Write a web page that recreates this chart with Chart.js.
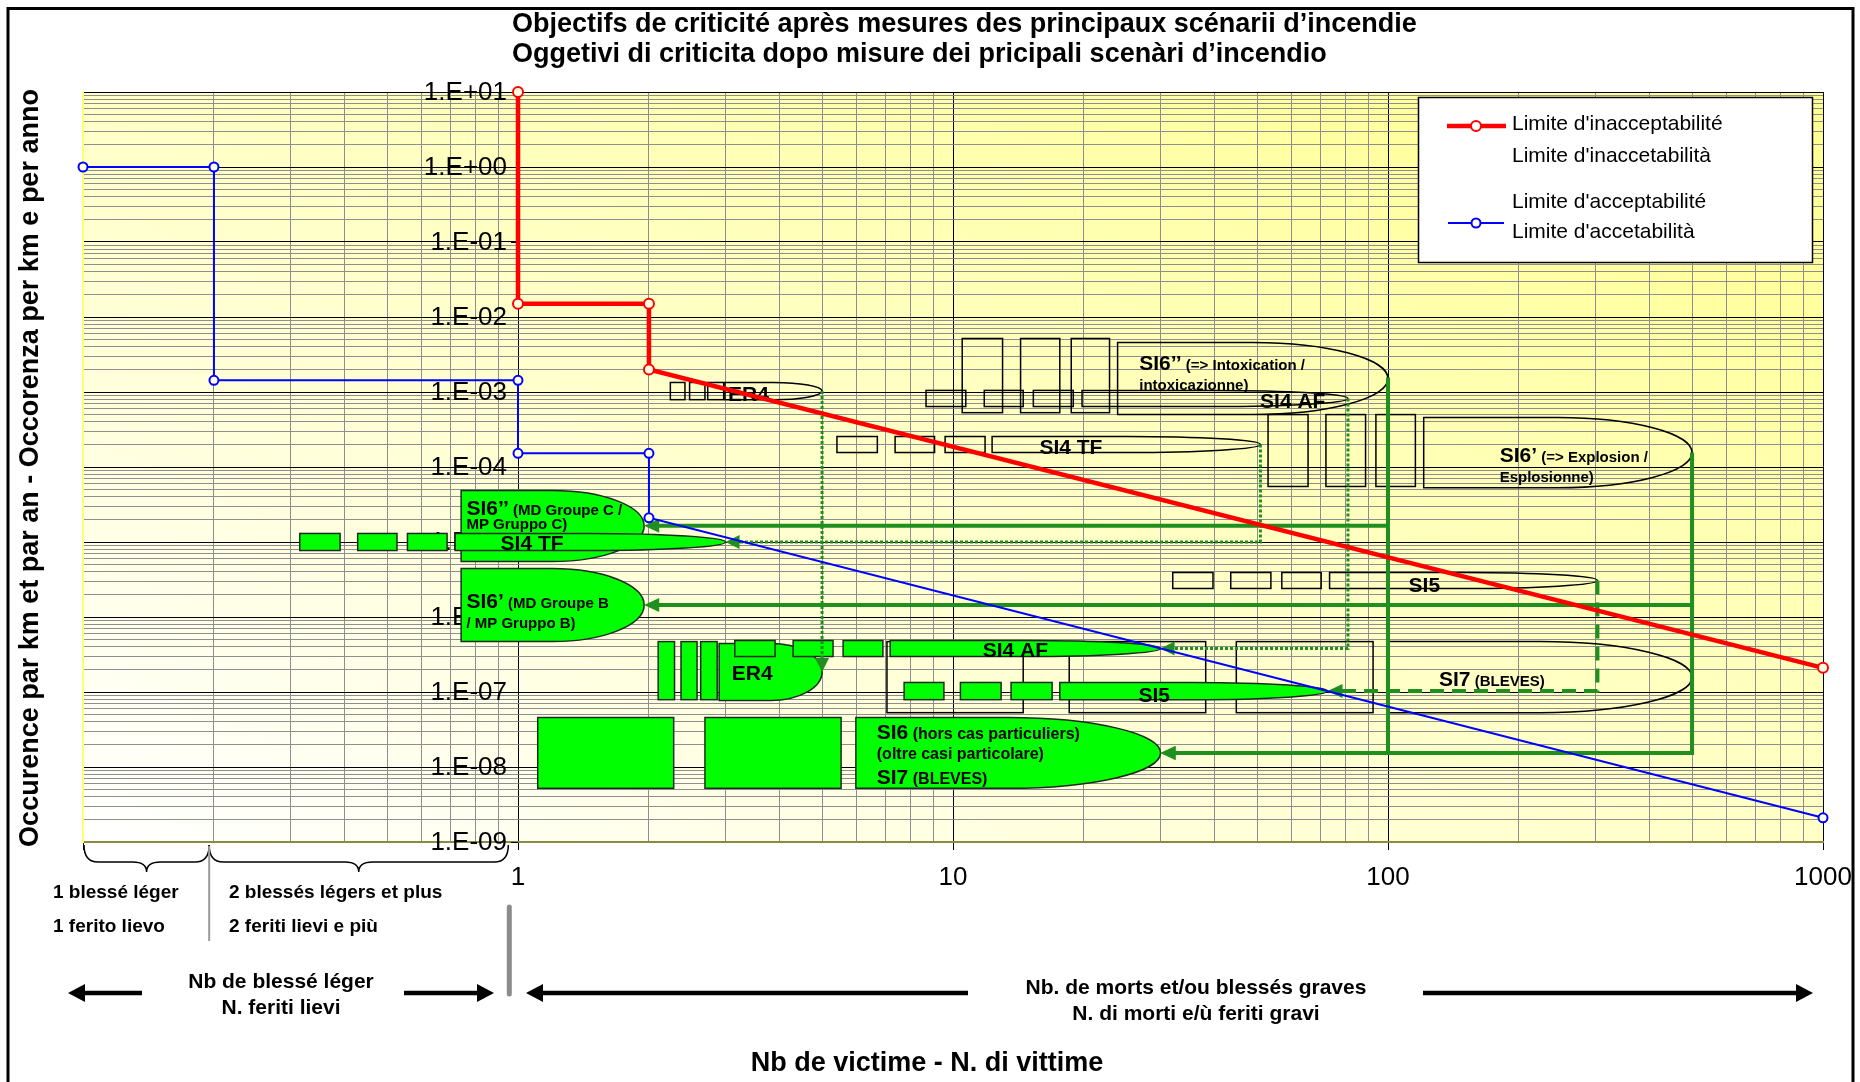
<!DOCTYPE html>
<html>
<head>
<meta charset="utf-8">
<script src="https://cdn.jsdelivr.net/npm/chart.js@4.4.1/dist/chart.umd.min.js"></script>
<style>
  html, body { margin: 0; padding: 0; background: #ffffff; }
  canvas { display: block; }
</style>
</head>
<body>
<canvas id="chart" width="1860" height="1082"></canvas>
<script>
const FONT = "'Liberation Sans', Arial, sans-serif";

// ---- Limit curves (number of victims -> occurrence per km and per year) ----
const unacceptX = [1, 1, 2, 2, 1000];
const unacceptY = [10, 0.015, 0.015, 0.002, 2.1e-7];
const acceptX = [0.1, 0.2, 0.2, 1, 1, 2, 2, 1000];
const acceptY = [1, 1, 1.43e-3, 1.43e-3, 1.52e-4, 1.52e-4, 2.1e-5, 2.1e-9];

// ---- Axis ticks ----
const yTickValues = [10, 1, 0.1, 0.01, 1e-3, 1e-4, 1e-5, 1e-6, 1e-7, 1e-8, 1e-9];
const yTickLabels = ['1.E+01', '1.E+00', '1.E-01', '1.E-02', '1.E-03', '1.E-04', '1.E-05', '1.E-06', '1.E-07', '1.E-08', '1.E-09'];
const xTickValues = [1, 10, 100, 1000];
const xTickLabels = ['1', '10', '100', '1000'];

// ---- Scenario zones before measures (outlined): [xMin, xMax, yMin, yMax] ----
const openRects = [
  [2.24, 2.42, 7.9e-4, 1.34e-3], [2.48, 2.69, 7.9e-4, 1.34e-3], [2.73, 2.97, 7.9e-4, 1.34e-3],      // ER4
  [5.41, 6.70, 1.56e-4, 2.55e-4], [7.36, 9.07, 1.56e-4, 2.55e-4], [9.59, 11.85, 1.56e-4, 2.55e-4], // SI4 TF
  [10.5, 13.0, 5.3e-4, 5.17e-3], [14.3, 17.6, 5.3e-4, 5.17e-3], [18.7, 22.9, 5.3e-4, 5.17e-3],     // SI6'' intoxication
  [8.67, 10.7, 6.4e-4, 1.05e-3], [11.8, 14.5, 6.4e-4, 1.05e-3], [15.3, 18.9, 6.4e-4, 1.05e-3],     // SI4 AF
  [53, 65.5, 5.5e-5, 5.0e-4], [72, 88.8, 5.5e-5, 5.0e-4], [93.8, 115.6, 5.5e-5, 5.0e-4],           // SI6' explosion
  [32, 39.6, 2.4e-6, 3.92e-6], [43.5, 53.8, 2.4e-6, 3.92e-6], [57, 70.2, 2.4e-6, 3.92e-6],         // SI5
  [7.05, 14.5, 5.3e-8, 4.7e-7], [18.5, 38.1, 5.3e-8, 4.7e-7], [44.8, 92.4, 5.3e-8, 4.7e-7]          // SI7
];
const openTips = [
  [2.99, 5.0, 7.9e-4, 1.34e-3],     // ER4
  [12.3, 50.9, 1.56e-4, 2.55e-4],   // SI4 TF
  [23.9, 100, 5.0e-4, 4.57e-3],     // SI6'' intoxication
  [19.8, 80.9, 6.4e-4, 1.05e-3],    // SI4 AF
  [120.8, 500, 5.3e-5, 4.57e-4],    // SI6' explosion
  [73.4, 303, 2.4e-6, 3.92e-6],     // SI5
  [100, 500, 5.3e-8, 4.7e-7]        // SI7
];

// ---- Scenario zones after measures (filled) ----
const greenTips = [
  [0.74, 1.95, 5.5e-6, 4.86e-5],    // SI6'' MD groupe C
  [0.74, 1.95, 4.7e-7, 4.43e-6],    // SI6' MD groupe B
  [0.717, 3.0, 7.7e-6, 1.3e-5],     // SI4 TF
  [2.90, 5.0, 7.7e-8, 4.43e-7],     // ER4
  [7.17, 30, 2.97e-7, 4.86e-7],     // SI4 AF
  [17.6, 72.6, 7.9e-8, 1.34e-7],    // SI5
  [5.98, 30, 5.2e-9, 4.57e-8]       // SI6 / SI7
];
const greenRects = [
  [0.315, 0.39, 7.7e-6, 1.3e-5], [0.428, 0.527, 7.7e-6, 1.3e-5], [0.557, 0.687, 7.7e-6, 1.3e-5],
  [2.10, 2.29, 7.9e-8, 4.7e-7], [2.37, 2.58, 7.9e-8, 4.7e-7], [2.63, 2.87, 7.9e-8, 4.7e-7],
  [3.15, 3.90, 2.97e-7, 4.86e-7], [4.29, 5.30, 2.97e-7, 4.86e-7], [5.59, 6.90, 2.97e-7, 4.86e-7],
  [7.72, 9.53, 7.9e-8, 1.34e-7], [10.4, 12.9, 7.9e-8, 1.34e-7], [13.6, 16.9, 7.9e-8, 1.34e-7],
  [1.11, 2.28, 5.2e-9, 4.57e-8], [2.69, 5.53, 5.2e-9, 4.57e-8]
];

// ---- Links from each initial zone to its reduced zone (arrow at the last point) ----
const solidLinks = [
  [[100, 1.56e-3], [100, 1.65e-5], [1.95, 1.65e-5]],
  [[100, 1.65e-5], [100, 1.54e-8], [30, 1.54e-8]],
  [[500, 1.56e-4], [500, 1.44e-6], [1.95, 1.44e-6]],
  [[500, 1.44e-6], [500, 1.54e-8], [30, 1.54e-8]]
];
const dottedLinks = [
  [[5, 1.03e-3], [5, 1.85e-7]],
  [[50.9, 2.0e-4], [50.9, 1.0e-5], [3.0, 1.0e-5]],
  [[80.9, 8.2e-4], [80.9, 3.8e-7], [30, 3.8e-7]]
];
const dashedLinks = [
  [[303, 3.07e-6], [303, 1.03e-7], [72.6, 1.03e-7]]
];

// ---- Zone captions: anchor (x, y) with a bold heading and a smaller tail ----
const zoneLabels = [
  { x: 26.8, y: 2.47e-3, head: 'SI6’’', tail: ' (=> Intoxication /' },
  { x: 26.8, y: 1.26e-3, head: '', tail: 'intoxicazionne)' },
  { x: 50.8, y: 7.7e-4, head: 'SI4 AF', tail: '' },
  { x: 15.8, y: 1.89e-4, head: 'SI4 TF', tail: '' },
  { x: 3.04, y: 9.55e-4, head: 'ER4', tail: '' },
  { x: 180.6, y: 1.47e-4, head: 'SI6’', tail: ' (=> Explosion /' },
  { x: 180.6, y: 7.5e-5, head: '', tail: 'Esplosionne)' },
  { x: 111.5, y: 2.71e-6, head: 'SI5', tail: '' },
  { x: 131, y: 1.51e-7, head: 'SI7', tail: ' (BLEVES)' },
  { x: 0.761, y: 2.91e-5, head: 'SI6’’', tail: ' (MD Groupe C /' },
  { x: 0.761, y: 1.75e-5, head: '', tail: 'MP Gruppo C)' },
  { x: 0.912, y: 9.76e-6, head: 'SI4 TF', tail: '' },
  { x: 0.761, y: 1.66e-6, head: 'SI6’', tail: ' (MD Groupe B' },
  { x: 0.761, y: 8.4e-7, head: '', tail: '/ MP Gruppo B)' },
  { x: 3.10, y: 1.8e-7, head: 'ER4', tail: '' },
  { x: 11.7, y: 3.69e-7, head: 'SI4 AF', tail: '' },
  { x: 26.7, y: 9.26e-8, head: 'SI5', tail: '' },
  { x: 6.68, y: 2.95e-8, head: 'SI6', tail: ' (hors cas particuliers)' },
  { x: 6.68, y: 1.5e-8, head: '', tail: '(oltre casi particolare)' },
  { x: 6.68, y: 7.5e-9, head: 'SI7', tail: ' (BLEVES)' }
];

// Grid positions: 1..9 x 10^k on both log axes
function logGrid(minExp, maxExp) {
  const out = [];
  for (let e = minExp; e < maxExp; e++) {
    for (let m = 1; m <= 9; m++) out.push({ value: +(m * Math.pow(10, e)).toPrecision(6), major: m === 1 });
  }
  out.push({ value: Math.pow(10, maxExp), major: true });
  return out;
}

const GREEN_LINE = '#1f8f1f';
const GREEN_FILL = '#00ff00';

function tipPath(ctx, l, r, t, b) {
  const mx = (l + r) / 2, my = (t + b) / 2;
  ctx.beginPath();
  ctx.moveTo(l, t);
  ctx.lineTo(mx, t);
  ctx.ellipse(mx, my, (r - l) / 2, (b - t) / 2, 0, -Math.PI / 2, Math.PI / 2);
  ctx.lineTo(l, b);
  ctx.closePath();
}

function arrowHead(ctx, x0, y0, x1, y1, len, half) {
  const a = Math.atan2(y1 - y0, x1 - x0);
  ctx.beginPath();
  ctx.moveTo(x1, y1);
  ctx.lineTo(x1 - len * Math.cos(a) + half * Math.sin(a), y1 - len * Math.sin(a) - half * Math.cos(a));
  ctx.lineTo(x1 - len * Math.cos(a) - half * Math.sin(a), y1 - len * Math.sin(a) + half * Math.cos(a));
  ctx.closePath();
  ctx.fill();
}

function drawLink(ctx, pts, width, dash, headLen, headHalf) {
  const n = pts.length;
  const [ax, ay] = pts[n - 2], [bx, by] = pts[n - 1];
  const d = Math.hypot(bx - ax, by - ay);
  const ex = bx - (bx - ax) / d * headLen * 0.8, ey = by - (by - ay) / d * headLen * 0.8;
  ctx.save();
  ctx.strokeStyle = GREEN_LINE;
  ctx.fillStyle = GREEN_LINE;
  ctx.lineWidth = width;
  ctx.setLineDash(dash);
  ctx.lineCap = 'butt';
  ctx.lineJoin = 'miter';
  ctx.beginPath();
  ctx.moveTo(pts[0][0], pts[0][1]);
  for (let i = 1; i < n - 1; i++) ctx.lineTo(pts[i][0], pts[i][1]);
  ctx.lineTo(ex, ey);
  ctx.stroke();
  ctx.setLineDash([]);
  arrowHead(ctx, ax, ay, bx, by, headLen, headHalf);
  ctx.restore();
}

function blackArrow(ctx, x0, y, x1) {
  const dir = Math.sign(x1 - x0);
  ctx.beginPath();
  ctx.moveTo(x0, y);
  ctx.lineTo(x1 - dir * 14, y);
  ctx.stroke();
  arrowHead(ctx, x0, y, x1, y, 17, 9);
}

function brace(ctx, x0, x1, top, mid, tip) {
  const cx = (x0 + x1) / 2, r = 14;
  ctx.beginPath();
  ctx.moveTo(x0, top);
  ctx.quadraticCurveTo(x0, mid, x0 + r, mid);
  ctx.lineTo(cx - r, mid);
  ctx.quadraticCurveTo(cx, mid, cx, tip);
  ctx.quadraticCurveTo(cx, mid, cx + r, mid);
  ctx.lineTo(x1 - r, mid);
  ctx.quadraticCurveTo(x1, mid, x1, top);
  ctx.stroke();
}

const plotBackground = {
  id: 'plotBackground',
  beforeDraw(chart) {
    const { ctx, chartArea: a } = chart;
    const w = a.right - a.left, h = a.bottom - a.top;
    const s = 2 * w * h / (w * w + h * h);
    const g = ctx.createLinearGradient(a.left, a.bottom, a.left + s * h, a.bottom - s * w);
    g.addColorStop(0, '#ffffff');
    g.addColorStop(1, '#ffff8e');
    ctx.save();
    ctx.fillStyle = '#ffffff';
    ctx.fillRect(0, 0, chart.width, chart.height);
    ctx.fillStyle = g;
    ctx.fillRect(a.left, a.top, w, h);
    ctx.restore();
  }
};

const zonesLayer = {
  id: 'zonesLayer',
  beforeDatasetsDraw(chart) {
    const ctx = chart.ctx;
    const X = v => chart.scales.x.getPixelForValue(v);
    const Y = v => chart.scales.y.getPixelForValue(v);
    ctx.save();

    // frequency labels along the x = 1 line
    const x1 = X(1);
    ctx.fillStyle = '#000';
    ctx.strokeStyle = '#000';
    ctx.lineWidth = 1;
    ctx.font = `26px ${FONT}`;
    ctx.textAlign = 'right';
    ctx.textBaseline = 'middle';
    yTickValues.forEach((v, i) => {
      const y = Y(v);
      ctx.fillText(yTickLabels[i], x1 - 11, y + 1);
      ctx.beginPath();
      ctx.moveTo(x1 - 7, Math.round(y) + 0.5);
      ctx.lineTo(x1, Math.round(y) + 0.5);
      ctx.stroke();
    });

    // zones before measures
    ctx.strokeStyle = '#000';
    ctx.lineWidth = 1.5;
    openTips.forEach(z => { tipPath(ctx, X(z[0]), X(z[1]), Y(z[3]), Y(z[2])); ctx.stroke(); });
    openRects.forEach(z => { ctx.strokeRect(X(z[0]), Y(z[3]), X(z[1]) - X(z[0]), Y(z[2]) - Y(z[3])); });

    // zones after measures
    ctx.fillStyle = GREEN_FILL;
    ctx.strokeStyle = '#1e2a1e';
    ctx.lineWidth = 1.5;
    greenTips.forEach(z => { tipPath(ctx, X(z[0]), X(z[1]), Y(z[3]), Y(z[2])); ctx.fill(); ctx.stroke(); });
    greenRects.forEach(z => {
      const l = X(z[0]), t = Y(z[3]), w = X(z[1]) - l, h = Y(z[2]) - t;
      ctx.fillRect(l, t, w, h);
      ctx.strokeRect(l, t, w, h);
    });

    // links
    const toPx = path => path.map(p => [X(p[0]), Y(p[1])]);
    solidLinks.forEach(p => drawLink(ctx, toPx(p), 4, [], 15, 7));
    dottedLinks.forEach(p => drawLink(ctx, toPx(p), 3, [3, 2], 14, 7));
    dashedLinks.forEach(p => drawLink(ctx, toPx(p), 4, [14, 8], 15, 7));

    // captions
    ctx.fillStyle = '#000';
    ctx.textAlign = 'left';
    ctx.textBaseline = 'alphabetic';
    zoneLabels.forEach(lb => {
      const big = lb.head ? 21 : 15;
      const base = Y(lb.y) + big * 0.36;
      let x = X(lb.x);
      if (lb.head) {
        ctx.font = `bold 21px ${FONT}`;
        ctx.fillText(lb.head, x, base);
        x += ctx.measureText(lb.head).width;
      }
      if (lb.tail) {
        ctx.font = `bold ${lb.x > 6 && lb.x < 7 ? 16 : 15}px ${FONT}`;
        ctx.fillText(lb.tail, x, base);
      }
    });
    ctx.restore();
  }
};

const decorations = {
  id: 'decorations',
  afterDraw(chart) {
    const ctx = chart.ctx;
    const X = v => chart.scales.x.getPixelForValue(v);
    ctx.save();
    ctx.fillStyle = '#000';
    ctx.strokeStyle = '#000';

    // title
    ctx.font = `bold 27px ${FONT}`;
    ctx.textAlign = 'left';
    ctx.textBaseline = 'middle';
    ctx.fillText('Objectifs de criticité après mesures des principaux scénarii d’incendie', 512, 25);
    ctx.fillText('Oggetivi di criticita dopo misure dei pricipali scenàri d’incendio', 512, 55);

    // y axis title
    ctx.save();
    ctx.translate(31, 468);
    ctx.rotate(-Math.PI / 2);
    ctx.textAlign = 'center';
    ctx.fillText('Occurence par km et par an - Occorenza per km e per anno', 0, 0);
    ctx.restore();

    // x tick labels
    ctx.font = `26px ${FONT}`;
    ctx.textAlign = 'center';
    xTickValues.forEach((v, i) => ctx.fillText(xTickLabels[i], X(v), 878));

    // legend
    ctx.fillStyle = '#ffffff';
    ctx.fillRect(1418, 97, 395, 166);
    ctx.lineWidth = 1.5;
    ctx.strokeRect(1418.5, 97.5, 394, 165);
    ctx.lineWidth = 4.5;
    ctx.strokeStyle = '#ff0000';
    ctx.beginPath(); ctx.moveTo(1447, 126); ctx.lineTo(1506, 126); ctx.stroke();
    ctx.lineWidth = 2;
    ctx.fillStyle = '#ffffff';
    ctx.beginPath(); ctx.arc(1476, 126, 5, 0, Math.PI * 2); ctx.fill(); ctx.stroke();
    ctx.strokeStyle = '#0000ff';
    ctx.beginPath(); ctx.moveTo(1448, 223); ctx.lineTo(1504, 223); ctx.stroke();
    ctx.beginPath(); ctx.arc(1476, 223, 4.5, 0, Math.PI * 2); ctx.fill(); ctx.stroke();
    ctx.fillStyle = '#000';
    ctx.font = `21px ${FONT}`;
    ctx.textAlign = 'left';
    ctx.fillText("Limite d'inacceptabilité", 1512, 124);
    ctx.fillText("Limite d'inaccetabilità", 1512, 156);
    ctx.fillText("Limite d'acceptabilité", 1512, 202);
    ctx.fillText("Limite d'accetabilità", 1512, 232);

    // light-injury braces
    ctx.strokeStyle = '#000';
    ctx.lineWidth = 1.5;
    brace(ctx, X(0.1) + 1, X(0.195), 845, 862, 872);
    brace(ctx, X(0.195), X(0.95), 845, 862, 872);
    ctx.strokeStyle = '#9a9a9a';
    ctx.lineWidth = 2;
    ctx.beginPath(); ctx.moveTo(X(0.195), 846); ctx.lineTo(X(0.195), 941); ctx.stroke();

    ctx.fillStyle = '#000';
    ctx.font = `bold 19px ${FONT}`;
    ctx.fillText('1 blessé léger', 53, 893);
    ctx.fillText('1 ferito lievo', 53, 927);
    ctx.fillText('2 blessés légers et plus', 229, 893);
    ctx.fillText('2 feriti lievi e più', 229, 927);

    // separator between light injuries and deaths / severe injuries
    ctx.strokeStyle = '#8c8c8c';
    ctx.lineWidth = 5;
    ctx.lineCap = 'round';
    ctx.beginPath(); ctx.moveTo(X(0.955), 907); ctx.lineTo(X(0.955), 994); ctx.stroke();
    ctx.lineCap = 'butt';

    // range arrows
    ctx.strokeStyle = '#000';
    ctx.fillStyle = '#000';
    ctx.lineWidth = 4.5;
    blackArrow(ctx, 142, 993, 68);
    blackArrow(ctx, 404, 993, 494);
    blackArrow(ctx, 968, 993, 526);
    blackArrow(ctx, 1423, 993, 1813);

    ctx.font = `bold 21px ${FONT}`;
    ctx.textAlign = 'center';
    ctx.fillText('Nb de blessé léger', 281, 982);
    ctx.fillText('N. feriti lievi', 281, 1008);
    ctx.fillText('Nb. de morts et/ou blessés graves', 1196, 988);
    ctx.fillText('N. di morti e/ù feriti gravi', 1196, 1014);

    // x axis title
    ctx.font = `bold 27px ${FONT}`;
    ctx.fillText('Nb de victime - N. di vittime', 927, 1064);

    // outer frame
    ctx.lineWidth = 3;
    ctx.strokeRect(8, 8.5, 1845, 1200);
    ctx.restore();
  }
};

const isMajorTick = c => c.tick && c.tick.major;

new Chart(document.getElementById('chart'), {
  type: 'line',
  data: {
    datasets: [
      {
        label: "Limite d'inacceptabilité",
        data: unacceptX.map((x, i) => ({ x, y: unacceptY[i] })),
        borderColor: '#ff0000',
        borderWidth: 4.5,
        pointRadius: 5,
        pointBorderWidth: 2,
        pointBorderColor: '#ff0000',
        pointBackgroundColor: 'rgba(255,255,230,1)',
        tension: 0,
        clip: false
      },
      {
        label: "Limite d'acceptabilité",
        data: acceptX.map((x, i) => ({ x, y: acceptY[i] })),
        borderColor: '#0000ff',
        borderWidth: 2,
        pointRadius: 4.5,
        pointBorderWidth: 2,
        pointBorderColor: '#0000ff',
        pointBackgroundColor: 'rgba(255,255,230,1)',
        tension: 0,
        clip: false
      }
    ]
  },
  options: {
    responsive: false,
    animation: false,
    events: [],
    layout: { padding: { left: 83, right: 37, top: 92, bottom: 232 } },
    plugins: { legend: { display: false }, tooltip: { enabled: false }, title: { display: false } },
    scales: {
      x: {
        type: 'logarithmic',
        min: 0.1,
        max: 1000,
        afterBuildTicks: s => { s.ticks = logGrid(-1, 3); },
        ticks: { display: false },
        grid: {
          color: c => isMajorTick(c) ? '#000000' : '#8e8e8e',
          lineWidth: 1,
          drawTicks: true,
          tickLength: 8,
          tickColor: c => isMajorTick(c) ? '#000000' : 'rgba(0,0,0,0)'
        },
        border: { color: '#8a8a40', width: 2 }
      },
      y: {
        type: 'logarithmic',
        min: 1e-9,
        max: 10,
        afterBuildTicks: s => { s.ticks = logGrid(-9, 1); },
        ticks: { display: false },
        grid: {
          color: c => isMajorTick(c) ? '#000000' : '#8e8e8e',
          lineWidth: 1,
          drawTicks: false
        },
        border: { color: '#ffff70', width: 2 }
      }
    }
  },
  plugins: [plotBackground, zonesLayer, decorations]
});
</script>
</body>
</html>
